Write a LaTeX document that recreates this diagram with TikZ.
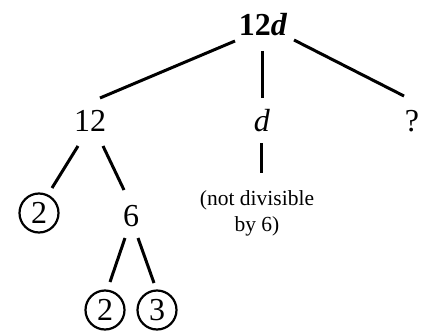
\documentclass[tikz,border=0pt]{standalone}
\usepackage{fontspec}
\setmainfont{Liberation Serif}
\usetikzlibrary{positioning,calc}

\begin{document}
\begin{tikzpicture}[
  x=1pt, y=-1pt,
  num/.style={inner sep=0pt, font=\fontsize{32}{34}\selectfont},
  rootnum/.style={inner sep=0pt, font=\fontsize{32}{34}\selectfont\bfseries},
  circ/.style={num, circle, draw, line width=2.2pt, minimum size=39pt},
  note/.style={inner sep=0pt, align=center, font=\fontsize{21.5}{26}\selectfont},
  edge/.style={line width=3pt},
]
\useasboundingbox (0,0) rectangle (427,331);

% nodes of the factor tree
\node[rootnum] (top) at (263,25) {12\textit{d}};
\node[num] (n12) at (90,121) {12};
\node[num] (nd) at (262,121) {\textit{d}};
\node[num] (nq) at (412,121) {?};
\node[circ] (c2a) at (39,213) {2};
\node[num] (n6) at (131,216) {6};
\node[note] (txt) at (257,213) {(not divisible\\by 6)};
\node[circ] (c2b) at (105,310) {2};
\node[circ] (c3) at (157,310) {3};

% branches
\draw[edge] ([shift={(-28,16)}]top.center) -- ([shift={(10,-23)}]n12.center);
\draw[edge] ([shift={(-1,26)}]top.center) -- ([shift={(0,-23)}]nd.center);
\draw[edge] ([shift={(31,15)}]top.center) -- ([shift={(-8,-25)}]nq.center);
\draw[edge] ([shift={(-12,25)}]n12.center) -- ([shift={(13,-25)}]c2a.center);
\draw[edge] ([shift={(13,25)}]n12.center) -- ([shift={(-7,-26)}]n6.center);
\draw[edge] ([shift={(-1,22)}]nd.center) -- ([shift={(4,-40)}]txt.center);
\draw[edge] ([shift={(-6,22)}]n6.center) -- ([shift={(5,-28)}]c2b.center);
\draw[edge] ([shift={(7,22)}]n6.center) -- ([shift={(-3,-27)}]c3.center);
\end{tikzpicture}
\end{document}
